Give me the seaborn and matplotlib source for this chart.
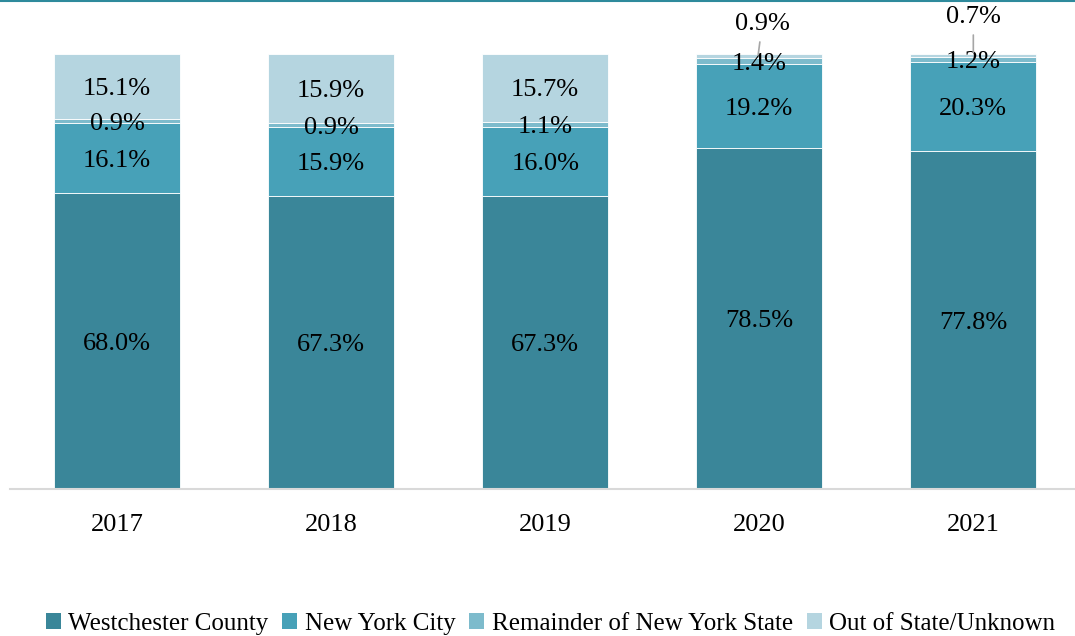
import matplotlib
matplotlib.use('Agg')
import matplotlib.pyplot as plt
import seaborn as sns
import numpy as np
from matplotlib.lines import Line2D
from matplotlib.patches import Patch

# 数据
years = ['2017', '2018', '2019', '2020', '2021']
series_names = ['Westchester County', 'New York City',
                'Remainder of New York State', 'Out of State/Unknown']
westchester = [68.0, 67.3, 67.3, 78.5, 77.8]
nyc = [16.1, 15.9, 16.0, 19.2, 20.3]
remainder = [0.9, 0.9, 1.1, 1.4, 1.2]
out_of_state = [15.1, 15.9, 15.7, 0.9, 0.7]
colors = ['#3a8699', '#47a1b8', '#7dbbcc', '#b5d5e0']

sns.set_theme(style='white')
plt.rcParams['font.family'] = ['Liberation Serif', 'DejaVu Serif']

fig = plt.figure(figsize=(10.75, 6.36), dpi=100)
ax = fig.add_axes([10 / 1075, (636 - 489) / 636, 1065 / 1075, 435 / 636])

fs = 19
all_series = [westchester, nyc, remainder, out_of_state]
bottom = np.zeros(len(years))
for vals, col in zip(all_series, colors):
    sns.barplot(x=years, y=vals, bottom=bottom, color=col, saturation=1, width=0.59,
                edgecolor='white', linewidth=0.6, ax=ax)
    # 段内标签（2020/2021顶端小段用引线标注）
    for i, v in enumerate(vals):
        if v < 1.0 and i >= 3:
            continue
        ax.annotate(f'{v:.1f}%', xy=(i, bottom[i] + v / 2), xytext=(0, -2),
                    textcoords='offset points', ha='center', va='center',
                    fontsize=fs, color='black')
    bottom = bottom + np.array(vals)

# 引线标签
ax.annotate(f'{out_of_state[3]:.1f}%', xy=(2.995, 99.8), xytext=(3.014, 107.0),
            ha='center', va='center', fontsize=fs, color='black', annotation_clip=False,
            arrowprops=dict(arrowstyle='-', color='#a6a6a6', lw=1.2, shrinkA=3, shrinkB=0))
ax.annotate(f'{out_of_state[4]:.1f}%', xy=(4.0, 100.4), xytext=(4.0, 108.6),
            ha='center', va='center', fontsize=fs, color='black', annotation_clip=False,
            arrowprops=dict(arrowstyle='-', color='#a6a6a6', lw=1.2, shrinkA=3, shrinkB=0))

ax.set_xlim(-0.5, 4.475)
ax.set_ylim(0, 100)
ax.set_yticks([])
ax.set_ylabel('')
ax.tick_params(axis='x', length=0, pad=18, labelsize=fs, labelcolor='black')
for s in ['top', 'right', 'left']:
    ax.spines[s].set_visible(False)
ax.spines['bottom'].set_color('#d9d9d9')
ax.spines['bottom'].set_linewidth(1.5)

# 图例
handles = [Patch(facecolor=c, edgecolor='none') for c in colors]
fig.legend(handles, series_names, loc='center', bbox_to_anchor=(0.512, 1 - 624 / 636),
           ncol=4, frameon=False, fontsize=18, handlelength=0.6, handleheight=0.6,
           handletextpad=0.3, columnspacing=0.55, labelcolor='black')

# 顶部细线
fig.add_artist(Line2D([0, 1], [0.998, 0.998], color='#2e8a9c', lw=1.5,
                      transform=fig.transFigure))

plt.savefig('out.png', dpi=100)
